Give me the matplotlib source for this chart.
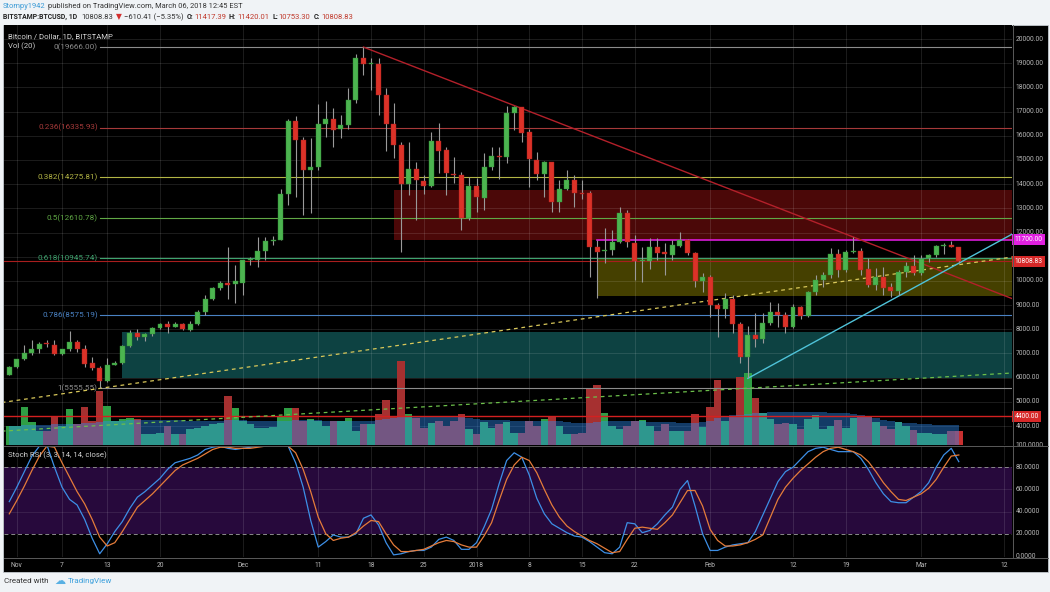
import matplotlib
matplotlib.use('Agg')
import matplotlib.pyplot as plt
from matplotlib.patches import Rectangle
from matplotlib.lines import Line2D
import numpy as np
import pandas as pd

plt.rcParams['font.family'] = ['Roboto', 'DejaVu Sans']

# ---------------- data ----------------
dates = pd.date_range('2017-10-31', '2018-03-06', freq='D')

opens = [6110, 6430, 6760, 7000, 7170, 7390, 7350, 6980, 7170, 7460,
         7170, 6590, 6390, 5870, 6540, 6590, 7310, 7860, 7670, 7800,
         8040, 8210, 8100, 8210, 7980, 8210, 8720, 9270, 9720, 9930,
         9870, 9930, 10860, 10860, 11240, 11630, 11700, 13610, 16620, 15820,
         14580, 14690, 16480, 16680, 16270, 16440, 17470, 19200, 18960, 18960,
         17690, 16480, 15610, 14000, 14640, 14120, 13930, 15780, 15400, 14430,
         14360, 12620, 13920, 13410, 14690, 15170, 15130, 16950, 17170, 16170,
         14990, 14400, 14900, 13250, 13790, 14190, 13640, 13630, 11420, 11250,
         11270, 11590, 12800, 11560, 10820, 10820, 11420, 11170, 11070, 11450,
         11690, 11170, 9980, 10170, 9000, 8820, 9240, 8200, 6860, 7760,
         7580, 8270, 8710, 8590, 8080, 8940, 8530, 9520, 10050, 10260,
         11110, 10450, 11210, 11240, 10480, 9830, 10170, 9730, 9590, 10370,
         10630, 10330, 10950, 11070, 11440, 11490, 11417.39]
highs = [6470, 6780, 7350, 7560, 7490, 7560, 7560, 7200, 7910, 7560,
         7350, 6840, 6500, 6800, 6680, 7330, 7960, 8000, 7860, 8110,
         8270, 8350, 8300, 8270, 8350, 8790, 9400, 9760, 9980, 11420,
         10650, 10860, 11000, 11820, 11820, 11870, 13800, 16700, 16800, 15960,
         15900, 17300, 17430, 17130, 16850, 17960, 19380, 19666, 19200, 19200,
         17960, 17340, 15750, 15750, 14900, 14380, 16170, 16520, 15550, 15130,
         14500, 14300, 14240, 15270, 15520, 15550, 17230, 17250, 17200, 16300,
         15340, 14950, 14900, 14170, 14580, 14380, 14170, 13700, 11700, 12170,
         12100, 13060, 12950, 11900, 11420, 11760, 11760, 11550, 11690, 12030,
         11750, 11200, 10340, 10240, 9100, 9480, 9410, 8310, 8120, 8660,
         8680, 9140, 9070, 8730, 9040, 8960, 9600, 10240, 10380, 11340,
         11300, 11270, 11800, 11340, 10930, 10520, 10560, 9900, 10450, 10790,
         11070, 11070, 11110, 11480, 11580, 11660, 11420.01]
lows = [6100, 6380, 6740, 6940, 7000, 7270, 6940, 6940, 7100, 7070,
        6450, 6310, 5555.55, 5830, 6520, 6580, 7260, 7560, 7510, 7740,
        8000, 7860, 8090, 7950, 7930, 8180, 8580, 9200, 9640, 9270,
        9070, 9410, 10650, 10580, 10860, 11500, 11700, 13130, 13480, 12720,
        12800, 14600, 15960, 15520, 15890, 16300, 17340, 18520, 17890, 16850,
        15360, 15060, 11190, 13550, 12510, 13600, 13900, 14470, 13550, 14030,
        12100, 12520, 12860, 12930, 14580, 14200, 14860, 16240, 15750, 13890,
        14170, 13480, 12860, 12860, 13750, 13070, 13400, 10170, 9280, 10720,
        11070, 11550, 11420, 10030, 9970, 10480, 10860, 10240, 10860, 11410,
        11070, 9760, 9550, 8520, 7690, 8450, 7830, 6620, 5970, 7280,
        7420, 8170, 8100, 7860, 8040, 8410, 8500, 9410, 9760, 10100,
        10170, 10380, 11150, 10240, 9760, 9620, 9410, 9320, 9410, 10170,
        10240, 10230, 10790, 11000, 11110, 11410, 10753.30]
closes = [6450, 6760, 7030, 7170, 7390, 7380, 6980, 7170, 7460, 7170,
          6570, 6390, 5870, 6540, 6620, 7310, 7860, 7670, 7800, 8040,
          8210, 8100, 8210, 8000, 8210, 8720, 9270, 9720, 9900, 9830,
          9980, 10860, 10880, 11240, 11630, 11700, 13610, 16620, 15820, 14580,
          14690, 16480, 16680, 16240, 16440, 17470, 19200, 18960, 18980, 17690,
          16480, 15610, 14000, 14640, 14170, 13930, 15780, 15360, 14480, 14360,
          12620, 13920, 13450, 14690, 15170, 15130, 16950, 17170, 16130, 15030,
          14400, 14900, 13250, 13790, 14190, 13640, 13600, 11420, 11210, 11290,
          11590, 12800, 11590, 10820, 10850, 11420, 11170, 11130, 11480, 11690,
          11170, 9980, 10170, 9000, 8820, 9240, 8200, 6860, 7760, 7580,
          8270, 8710, 8590, 8080, 8940, 8530, 9520, 10050, 10260, 11110,
          10450, 11210, 11250, 10450, 9830, 10170, 9700, 9590, 10370, 10600,
          10330, 10920, 11070, 11440, 11470, 11420, 10808.83]
volume = [19, 19, 38, 23, 14, 14, 28, 19, 36, 21,
          38, 24, 54, 39, 24, 26, 27, 26, 11, 11,
          12, 19, 11, 11, 16, 17, 19, 21, 22, 49,
          37, 24, 21, 17, 17, 18, 28, 37, 37, 24,
          26, 24, 19, 24, 24, 27, 14, 21, 21, 31,
          45, 29, 84, 31, 27, 17, 22, 24, 19, 24,
          31, 16, 11, 23, 17, 21, 23, 12, 12, 24,
          19, 26, 28, 19, 11, 11, 12, 56, 60, 32,
          19, 16, 19, 24, 25, 19, 14, 21, 14, 14,
          14, 31, 18, 38, 65, 24, 28, 68, 72, 47,
          32, 26, 21, 22, 21, 16, 26, 30, 16, 19,
          25, 17, 27, 28, 28, 23, 19, 16, 23, 19,
          15, 12, 12, 11, 11, 14, 14]
volume_ma = [19, 19, 20, 20, 20, 20, 21, 21, 21, 21,
             22, 22, 23, 24, 24, 24, 25, 25, 25, 25,
             25, 25, 25, 25, 24, 24, 24, 24, 24, 25,
             25, 25, 24, 24, 24, 24, 24, 24, 25, 25,
             25, 25, 24, 24, 24, 24, 24, 24, 24, 25,
             26, 27, 29, 29, 29, 29, 28, 28, 28, 28,
             28, 27, 26, 25, 25, 25, 25, 24, 24, 24,
             24, 24, 24, 24, 23, 22, 22, 22, 23, 24,
             24, 24, 24, 24, 24, 23, 23, 23, 23, 22,
             22, 22, 23, 24, 27, 29, 30, 30, 31, 32,
             32, 33, 33, 33, 33, 33, 33, 33, 33, 32,
             32, 32, 31, 30, 29, 27, 25, 24, 23, 22,
             22, 21, 21, 20, 20, 20, 20]
stoch_k = [49, 62, 76, 90, 99, 100, 80, 62, 51, 46,
           33, 16, 2, 11, 22, 31, 43, 53, 58, 64,
           70, 78, 84, 86, 88, 91, 96, 98, 99, 97,
           96, 97, 98, 99, 100, 100, 100, 99, 84, 62,
           32, 8, 13, 19, 17, 17, 20, 34, 37, 28,
           12, 1, 2, 4, 5, 5, 8, 15, 17, 14,
           6, 6, 12, 26, 42, 65, 86, 93, 89, 73,
           52, 38, 29, 25, 21, 18, 17, 13, 8, 3,
           2, 8, 30, 29, 21, 23, 29, 37, 44, 60,
           68, 45, 20, 5, 5, 8, 10, 11, 12, 22,
           37, 52, 67, 76, 80, 87, 94, 97, 98, 96,
           94, 94, 94, 88, 78, 66, 56, 49, 48, 48,
           53, 58, 66, 80, 91, 97, 85]
stoch_d = [38, 50, 63, 77, 90, 99, 98, 84, 71, 58,
           47, 33, 17, 9, 12, 22, 33, 44, 50, 56,
           63, 70, 77, 82, 85, 88, 92, 96, 98, 98,
           97, 97, 97, 98, 99, 100, 100, 99, 93, 78,
           58, 35, 20, 14, 16, 17, 21, 27, 32, 31,
           20, 10, 4, 4, 5, 6, 9, 12, 14, 13,
           10, 8, 8, 18, 30, 50, 69, 82, 89, 86,
           75, 60, 46, 35, 27, 22, 18, 14, 11, 7,
           3, 4, 15, 25, 26, 25, 24, 30, 37, 48,
           59, 59, 45, 24, 14, 9, 9, 10, 12, 15,
           19, 35, 51, 62, 70, 77, 83, 89, 94, 97,
           98, 96, 94, 91, 85, 76, 66, 58, 51, 50,
           53, 56, 61, 69, 80, 90, 91]

tick_dates = ['2017-11-01', '2017-11-07', '2017-11-13', '2017-11-20', '2017-12-01',
              '2017-12-11', '2017-12-18', '2017-12-25', '2018-01-01', '2018-01-08',
              '2018-01-15', '2018-01-22', '2018-02-01', '2018-02-12', '2018-02-19',
              '2018-03-01', '2018-03-12']
tick_labels = ['Nov', '7', '13', '20', 'Dec', '11', '18', '25', '2018', '8', '15', '22',
               'Feb', '12', '19', 'Mar', '12']
# 11000 is hidden behind the last-price box in the reference
price_ticks = [4000, 5000, 6000, 7000, 8000, 9000, 10000, 12000, 13000, 14000, 15000,
               16000, 17000, 18000, 19000, 20000]
grid_prices = list(range(4000, 20001, 1000))
stoch_ticks = [0, 20, 40, 60, 80, 100]

fib_labels = ['0', '0.236', '0.382', '0.5', '0.618', '0.786', '1']
fib_prices = [19666.00, 16335.93, 14275.81, 12610.78, 10945.74, 8575.19, 5555.55]
fib_start = '2017-11-12'

zone_starts = ['2017-12-21', '2018-01-17', '2017-11-15']
zone_lows = [11700, 9380, 6000]
zone_highs = [13750, 10900, 7890]

red_trend_dates = ['2017-12-17', '2018-03-14']
red_trend_prices = [19666, 9156]
cyan_trend_dates = ['2018-02-06', '2018-03-14']
cyan_trend_prices = [5970, 12090]
yellow_dash_dates = ['2017-10-30', '2018-03-14']
yellow_dash_prices = [4971, 11028]
green_dash_dates = ['2017-10-30', '2018-03-14']
green_dash_prices = [3788, 6208]

last_price = 10808.83
alert_level = 4400
magenta_level = 11700
magenta_start = '2018-01-17'

# ---------------- layout helpers ----------------
W, H = 1050, 592
fig = plt.figure(figsize=(W / 100, H / 100), dpi=100, facecolor='#f0f3f6')


def rect_px(x0, y0, x1, y1):
    return [x0 / W, 1 - y1 / H, (x1 - x0) / W, (y1 - y0) / H]


def di(d):
    return (pd.Timestamp(d) - dates[0]).days


n = len(dates)
xi = np.arange(n)
o = np.array(opens, float)
h = np.array(highs, float)
l = np.array(lows, float)
c = np.array(closes, float)
up = c >= o

XL = (-0.70, 133.06)
YL = (3215, 20579)

fig.add_artist(Rectangle((3 / W, 1 - 572 / H), 1045 / W, 547 / H, transform=fig.transFigure,
                         facecolor='black', edgecolor='#c3c8ce', lw=0.6, zorder=-5))

main_box = rect_px(4, 25, 1012, 445)
ax_bg = fig.add_axes(main_box, zorder=1)
axv = fig.add_axes(main_box, zorder=2)
ax = fig.add_axes(main_box, zorder=3)
for a in (ax_bg, ax):
    a.set_xlim(XL)
    a.set_ylim(YL)
axv.set_xlim(XL)
axv.set_ylim(0, 420)
ax_bg.set_facecolor('black')
for a in (axv, ax):
    a.patch.set_alpha(0)
for a in (ax_bg, axv, ax):
    a.set_xticks([])
    a.set_yticks([])
    for s in a.spines.values():
        s.set_visible(False)

tick_x = [di(d) for d in tick_dates]

# zones
zone_colors = ['#4b0808', '#454000', '#0d4242']
for st, lo, hi, col in zip(zone_starts, zone_lows, zone_highs, zone_colors):
    ax_bg.add_patch(Rectangle((di(st), lo), XL[1] - di(st) + 2, hi - lo,
                              facecolor=col, edgecolor='none', zorder=1))
# grid
for t in tick_x:
    ax_bg.axvline(t, color='white', alpha=0.13, lw=0.6, zorder=2)
for p in grid_prices:
    ax_bg.axhline(p, color='white', alpha=0.13, lw=0.6, zorder=2)

# volume
vcol = np.where(up, '#2f9f45', '#a63030')
vcol[-1] = '#c83030'
axv.bar(xi, volume, width=1.0, color=vcol, lw=0)
axv.fill_between(xi, 0, volume_ma, step='mid', color='#2e8df5', alpha=0.42, lw=0)

# fib levels
fib_colors = ['#8c8c8c', '#a63a3a', '#b3b545', '#60a845', '#3fa36e', '#4a82c4', '#8c8c8c']
fs = di(fib_start)
for lab, p, col in zip(fib_labels, fib_prices, fib_colors):
    ax.plot([fs, XL[1] + 1], [p, p], color=col, lw=0.8, zorder=3)
    ax.text(fs - 0.25, p, f'{lab}({p:.2f})', color=col, ha='right', va='center',
            fontsize=5.9, zorder=3)

ax.axhline(last_price, color='#a81e1e', lw=0.8, zorder=3)
ax.axhline(alert_level, color='#d42020', lw=1.0, zorder=3)
ax.plot([di(magenta_start), XL[1] + 1], [magenta_level] * 2, color='#d81bd8', lw=1.2, zorder=3)

ax.plot([di(d) for d in yellow_dash_dates], yellow_dash_prices, color='#d9c85a', lw=0.9,
        ls=(0, (3, 3)), zorder=3)
ax.plot([di(d) for d in green_dash_dates], green_dash_prices, color='#6cbf4a', lw=0.9,
        ls=(0, (3, 3)), zorder=3)
ax.plot([di(d) for d in red_trend_dates], red_trend_prices, color='#b3202a', lw=1.0, zorder=3)
ax.plot([di(d) for d in cyan_trend_dates], cyan_trend_prices, color='#4fc3d9', lw=1.0, zorder=3)

# candles
ax.vlines(xi, l, h, color='#9a9a9a', lw=0.8, zorder=4)
body_bot = np.minimum(o, c)
body_h = np.maximum(np.abs(c - o), 45)
ax.bar(xi, body_h, bottom=body_bot, width=0.66, color=np.where(up, '#4cb450', '#dc3228'),
       edgecolor=np.where(up, '#2f8a33', '#a82020'), lw=0.3, zorder=5)

# price axis labels
ytr = ax.get_yaxis_transform()
for p in price_ticks:
    ax.text(1.0035, p, f'{p:.2f}', transform=ytr, color='#b8b8b8', fontsize=4.9,
            va='center', ha='left', clip_on=False)
for p, txt, col in [(magenta_level, '11700.00', '#e020e0'), (last_price, '10808.83', '#d62828'),
                    (alert_level, '4400.00', '#d62828')]:
    ax.text(1.0025, p, txt, transform=ytr, color='white', fontsize=4.9, va='center', ha='left',
            bbox=dict(boxstyle='square,pad=0.3', fc=col, ec='none'), clip_on=False, zorder=10)

# ---------------- stoch RSI ----------------
ax2 = fig.add_axes(rect_px(4, 446, 1012, 557), zorder=1)
ax2.set_xlim(XL)
ax2.set_ylim(-0.9, 99.1)
ax2.set_facecolor('black')
ax2.set_xticks([])
ax2.set_yticks([])
for s in ax2.spines.values():
    s.set_visible(False)
ax2.axhspan(20, 80, color='#27093c', lw=0, zorder=0)
for t in tick_x:
    ax2.axvline(t, color='white', alpha=0.13, lw=0.6, zorder=1)
for v in (40, 60):
    ax2.axhline(v, color='white', alpha=0.1, lw=0.6, zorder=1)
for v in (20, 80):
    ax2.axhline(v, color='#8a8a8a', lw=0.7, ls=(0, (4, 3)), zorder=1)
ax2.plot(xi, stoch_k, color='#3d8fe6', lw=0.9, zorder=3)
ax2.plot(xi, stoch_d, color='#e57c3a', lw=0.9, zorder=3)

ytr2 = ax2.get_yaxis_transform()
for v in stoch_ticks:
    ax2.text(1.0035, v, f'{v:.4f}', transform=ytr2, color='#b8b8b8', fontsize=4.9,
             va='center', ha='left', clip_on=False)
xtr2 = ax2.get_xaxis_transform()
for t, lab in zip(tick_x, tick_labels):
    ax2.text(t, -0.075, lab, transform=xtr2, color='#b8b8b8', fontsize=4.9, ha='center',
             va='center', clip_on=False)

# separators
for yy in (445.5, 557.5):
    fig.add_artist(Line2D([4 / W, 1048 / W], [1 - yy / H] * 2, color='#5a5a5a', lw=0.7,
                          transform=fig.transFigure, zorder=6))
fig.add_artist(Line2D([1012.5 / W] * 2, [1 - 25 / H, 1 - 558 / H], color='#5a5a5a', lw=0.7,
                      transform=fig.transFigure, zorder=6))

# chart captions
fig.text(8 / W, 1 - 36 / H, 'Bitcoin / Dollar, 1D, BITSTAMP', color='#d8d8d8', fontsize=5.6,
         va='center', zorder=7)
fig.text(8 / W, 1 - 46 / H, 'Vol (20)', color='#c8c8c8', fontsize=5.6, va='center', zorder=7)
fig.text(8 / W, 1 - 455 / H, 'Stoch RSI (3, 3, 14, 14, close)', color='#d0d0d0', fontsize=5.6,
         va='center', zorder=7)

# header / footer (sequential pieces, scaled to the reference's line length)
renderer = fig.canvas.get_renderer()


def seq_text(x_px, y_px, pieces, target=None):
    def place(scale):
        x = x_px
        made = []
        for s, col, wt, size, gap in pieces:
            t = fig.text(x / W, 1 - y_px / H, s, color=col, fontsize=size * scale,
                         fontweight=wt, va='center', ha='left')
            made.append(t)
            bb = t.get_window_extent(renderer=renderer)
            x += bb.width + gap * scale
        return x, made
    x_end, made = place(1.0)
    if target is not None:
        scale = (target - x_px) / (x_end - x_px)
        for t in made:
            t.remove()
        x_end, made = place(scale)
    return x_end


seq_text(3, 7, [('Stompy1942', '#3a9ad6', 'normal', 6.0, 2.5),
                ('published on TradingView.com, March 06, 2018 12:45 EST', '#333333', 'normal', 6.0, 0)],
         target=243)
red = '#c0392b'
dark = '#222222'
seq_text(3, 17, [('BITSTAMP:BTCUSD, 1D', dark, 'bold', 5.6, 5),
                 ('10808.83', '#333333', 'normal', 6.2, 3),
                 ('\u25bc', '#d32f2f', 'normal', 6.2, 2),
                 ('\u2212610.41 (\u22125.35%)', '#333333', 'normal', 6.2, 3.5),
                 ('O:', dark, 'bold', 5.8, 1), ('11417.39', red, 'normal', 6.2, 3.5),
                 ('H:', dark, 'bold', 5.8, 1), ('11420.01', red, 'normal', 6.2, 3.5),
                 ('L:', dark, 'bold', 5.8, 1), ('10753.30', red, 'normal', 6.2, 3.5),
                 ('C:', dark, 'bold', 5.8, 1), ('10808.83', red, 'normal', 6.2, 0)],
         target=352)
xe = seq_text(4, 581, [('Created with', '#333333', 'normal', 5.8, 0)], target=48)
fig.text((xe + 6) / W, 1 - 581 / H, '\u2601', color='#58b0e3', fontsize=8, va='center',
         ha='left', family='DejaVu Sans')
fig.text(68 / W, 1 - 581 / H, 'TradingView', color='#3ca0dc', fontsize=5.8, va='center',
         ha='left')

fig.savefig('out.png', dpi=100, facecolor=fig.get_facecolor())
